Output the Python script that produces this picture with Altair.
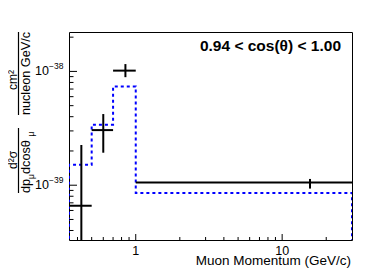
import altair as alt
import pandas as pd

# ---- data ----
bin_edges = [0.35, 0.5, 0.7, 1.0, 30.0]
mc_values = [1.51e-39, 3.40e-39, 7.36e-39, 8.55e-40]

data_x = [0.425, 0.6, 0.85, 15.5]
data_xlo = [0.35, 0.5, 0.7, 1.0]
data_xhi = [0.5, 0.7, 1.0, 30.0]
data_y = [6.6e-40, 3.05e-39, 1.016e-38, 1.054e-39]
data_ylo = [1e-41, 1.93e-39, 8.9e-39, 9.34e-40]
data_yhi = [2.26e-39, 4.22e-39, 1.16e-38, 1.135e-39]

x_major = [1, 10]
x_major_labels = ["1", "10"]
x_minor = [0.4, 0.5, 0.6, 0.7, 0.8, 0.9, 2, 3, 4, 5, 6, 7, 8, 9, 20]
y_major = [1e-39, 1e-38]
y_major_exps = ["\u221239", "\u221238"]
y_minor = [4e-40, 5e-40, 6e-40, 7e-40, 8e-40, 9e-40,
           2e-39, 3e-39, 4e-39, 5e-39, 6e-39, 7e-39, 8e-39, 9e-39, 2e-38]

X_DOMAIN = [0.35, 30.0]
Y_DOMAIN = [3.30e-40, 2.22e-38]
W, H = 283, 208
FONT = "Liberation Sans"

xs = alt.Scale(type="log", domain=X_DOMAIN, nice=False, zero=False)
ys = alt.Scale(type="log", domain=Y_DOMAIN, nice=False, zero=False)

# step histogram (MC) points
step_x = [bin_edges[0]] + bin_edges[:-1] + [bin_edges[-1], bin_edges[-1]]
step_y = [1e-41] + mc_values + [mc_values[-1], 1e-41]
step_df = pd.DataFrame({"x": step_x, "y": step_y, "o": list(range(len(step_x)))})

pts = pd.DataFrame({"x": data_x, "xlo": data_xlo, "xhi": data_xhi,
                    "y": data_y, "ylo": data_ylo, "yhi": data_yhi})

mc = alt.Chart(step_df).mark_line(
    interpolate="step-after", color="#0000ff", strokeWidth=2,
    strokeDash=[3, 3], clip=True
).encode(
    x=alt.X("x:Q", scale=xs, axis=None),
    y=alt.Y("y:Q", scale=ys, axis=None),
    order="o:Q",
)

hbar = alt.Chart(pts).mark_rule(color="black", strokeWidth=2, clip=True).encode(
    x=alt.X("xlo:Q", scale=xs, axis=None), x2="xhi:Q",
    y=alt.Y("y:Q", scale=ys, axis=None),
)
vbar = alt.Chart(pts).mark_rule(color="black", strokeWidth=2, clip=True).encode(
    x=alt.X("x:Q", scale=xs, axis=None),
    y=alt.Y("ylo:Q", scale=ys, axis=None), y2="yhi:Q",
)

xmaj = alt.Chart(pd.DataFrame({"v": x_major, "t": x_major_labels}))
xmin = alt.Chart(pd.DataFrame({"v": x_minor}))
ymaj = alt.Chart(pd.DataFrame({"v": y_major, "e": y_major_exps}))
ymin = alt.Chart(pd.DataFrame({"v": y_minor}))

xt_major = xmaj.mark_rule(color="black", strokeWidth=1).encode(
    x=alt.X("v:Q", scale=xs, axis=None), y=alt.value(H), y2=alt.value(H - 6))
xt_minor = xmin.mark_rule(color="black", strokeWidth=1).encode(
    x=alt.X("v:Q", scale=xs, axis=None), y=alt.value(H), y2=alt.value(H - 3))
yt_major = ymaj.mark_rule(color="black", strokeWidth=1).encode(
    y=alt.Y("v:Q", scale=ys, axis=None), x=alt.value(0), x2=alt.value(8))
yt_minor = ymin.mark_rule(color="black", strokeWidth=1).encode(
    y=alt.Y("v:Q", scale=ys, axis=None), x=alt.value(0), x2=alt.value(4.5))

x_lab = xmaj.mark_text(font=FONT, fontSize=12.5, baseline="middle", align="center").encode(
    x=alt.X("v:Q", scale=xs, axis=None), y=alt.value(H + 10.5), text="t:N")
y_lab = ymaj.mark_text(font=FONT, fontSize=12.5, baseline="middle", align="right").encode(
    y=alt.Y("v:Q", scale=ys, axis=None), x=alt.value(-20), text=alt.value("10"))
y_exp = ymaj.mark_text(font=FONT, fontSize=8.5, baseline="middle", align="left", dy=-5).encode(
    y=alt.Y("v:Q", scale=ys, axis=None), x=alt.value(-20), text="e:N")


def label(text, x, y, size, angle=0, align="left", baseline="alphabetic", bold=False):
    return alt.Chart(alt.Data(values=[{}])).mark_text(
        text=text, font=FONT, fontSize=size, angle=angle, align=align,
        baseline=baseline, fontWeight="bold" if bold else "normal", color="black"
    ).encode(x=alt.value(x), y=alt.value(y))


def vline(x, y1, y2):
    return alt.Chart(alt.Data(values=[{}])).mark_rule(color="black", strokeWidth=1.2).encode(
        x=alt.value(x), y=alt.value(y1), y2=alt.value(y2))


annot = [
    label("Muon Momentum (GeV/c)", W - 1, H + 25, 13.5, align="right"),
    label("0.94 < cos(\u03b8) < 1.00", 272, 19, 15.5, align="right", bold=True),
    # y-axis title (rotated fractions)
    vline(-50.5, 0, 83),
    vline(-50.5, 96, 161),
    label("cm\u00b2", -52, 48, 12, angle=270, align="center"),
    label("nucleon GeV/c", -39.5, 41.5, 12.7, angle=270, align="center"),
    label("d\u00b2\u03c3", -52, 128, 12, angle=270, align="center"),
    label("dp", -39.5, 161, 12.7, angle=270, align="left"),
    label("\u03bc", -35, 147, 8.5, angle=270, align="left"),
    label(" dcos\u03b8", -39.5, 142, 12.7, angle=270, align="left"),
    label("\u03bc", -35, 104.5, 8.5, angle=270, align="left"),
]

chart = alt.layer(
    mc, hbar, vbar, xt_major, xt_minor, yt_major, yt_minor,
    x_lab, y_lab, y_exp, *annot
).properties(
    width=W, height=H,
    autosize=alt.AutoSizeParams(type="none"),
    padding={"left": 61, "top": 24, "right": 26, "bottom": 32},
    background="white",
).configure_view(stroke="black", strokeWidth=1)

chart.save("out.html", embed_options={"renderer": "svg", "actions": False})
